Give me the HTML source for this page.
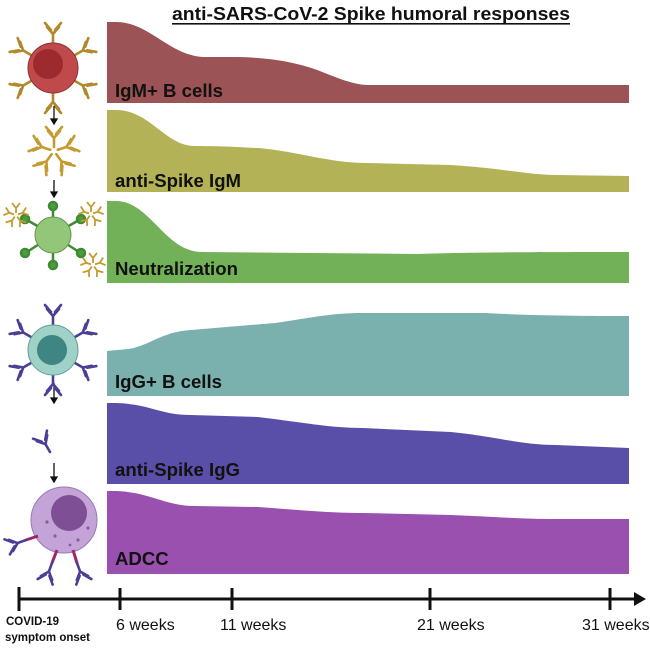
<!DOCTYPE html>
<html><head><meta charset="utf-8"><style>
html,body{margin:0;padding:0;background:#fff;}
svg{display:block;}
text{font-family:"Liberation Sans",Arial,sans-serif;}
</style></head><body>
<svg width="650" height="650" viewBox="0 0 650 650" xmlns="http://www.w3.org/2000/svg">
<defs>
<g id="ab"><path d="M0,0 V-9 M0,-9 L-6,-16 M0,-9 L6,-16 M-2,-13 L-8,-20 M2,-13 L8,-20" stroke-width="2.6" fill="none" stroke-linecap="round"/></g>
<g id="abs"><path d="M0,0 V-5 M0,-5 L-4,-10 M0,-5 L4,-10" stroke-width="1.8" fill="none"/></g>
</defs>
<text x="172" y="20" font-size="18" font-weight="bold" textLength="398" lengthAdjust="spacingAndGlyphs" fill="#111">anti-SARS-CoV-2 Spike humoral responses</text>
<rect x="172" y="23" width="398" height="1.6" fill="#111"/>
<path d="M107,103 L107,22 L116,22 C150,22 170,57 206,57 L230,57 C270,57 300,62 330,75 C350,83 360,85 369,85 L629,85 L629,103 Z" fill="#9b5356"/>
<path d="M107,192 V110 L116,110 C150,110 165,146 195,146 C230,146 250,148 259,148 C300,152 330,163 367,163 L451,165 C500,168 530,175 556,175 L629,176 V192 Z" fill="#b3b256"/>
<path d="M107,283 V201 L116,201 C150,201 165,252 202,252 L416,254 C450,253 480,252 629,252 V283 Z" fill="#72b157"/>
<path d="M107,396 V351 L128,349 C150,346 160,332 191,330 L275,323 C310,318 330,313 363,313 L486,313 C520,315 560,316 629,316 V396 Z" fill="#7ab0ae"/>
<path d="M107,484 V403 L116,403 C150,404 160,415 191,415 L258,417 C300,422 330,428 363,428 L451,432 C500,437 520,445 556,445 L629,448 V484 Z" fill="#5a4fa8"/>
<path d="M107,574 V491 L116,491 C150,492 165,506 195,506 L258,507 C300,510 330,513 363,513 L451,515 C500,517 520,519 556,519 L629,519 V574 Z" fill="#9a50ae"/>
<g font-size="18.6" font-weight="bold" fill="#111">
<text x="115" y="97">IgM+ B cells</text>
<text x="115" y="187">anti-Spike IgM</text>
<text x="115" y="275">Neutralization</text>
<text x="115" y="388">IgG+ B cells</text>
<text x="115" y="476">anti-Spike IgG</text>
<text x="115" y="565">ADCC</text>
</g>
<line x1="18" y1="599" x2="636" y2="599" stroke="#111" stroke-width="3"/>
<path d="M634,592 L646,599 L634,606 Z" fill="#111"/>
<g stroke="#111" stroke-width="3">
<line x1="19" y1="587" x2="19" y2="611"/>
<line x1="120" y1="588" x2="120" y2="610"/>
<line x1="232" y1="588" x2="232" y2="610"/>
<line x1="430" y1="588" x2="430" y2="610"/>
<line x1="610" y1="588" x2="610" y2="610"/>
</g>
<g font-size="16" fill="#111">
<text x="116" y="630">6 weeks</text>
<text x="220" y="630">11 weeks</text>
<text x="417" y="630">21 weeks</text>
<text x="582" y="630">31 weeks</text>
</g>
<g font-size="11.5" font-weight="bold" fill="#111">
<text x="6" y="625">COVID-19</text>
<text x="5" y="641">symptom onset</text>
</g>
<g stroke="#b08a2a">
<use href="#ab" transform="translate(53,43)"/>
<use href="#ab" transform="translate(53,93) rotate(180)"/>
<use href="#ab" transform="translate(31,55) rotate(-60)"/>
<use href="#ab" transform="translate(75,55) rotate(60)"/>
<use href="#ab" transform="translate(31,81) rotate(-120)"/>
<use href="#ab" transform="translate(75,81) rotate(120)"/>
</g>
<circle cx="53" cy="68" r="25" fill="#c0494c" stroke="#8e3034" stroke-width="1"/>
<circle cx="48" cy="64" r="15" fill="#9c2a2e"/>
<g stroke="#111" stroke-width="1.3" fill="#111">
<line x1="54" y1="106" x2="54" y2="121"/><path d="M51,119 L57,119 L54,124 Z"/>
<line x1="54" y1="180" x2="54" y2="194"/><path d="M51,192 L57,192 L54,197 Z"/>
<line x1="54" y1="383" x2="54" y2="400"/><path d="M51,398 L57,398 L54,403 Z"/>
<line x1="54" y1="463" x2="54" y2="479"/><path d="M51,477 L57,477 L54,482 Z"/>
</g>
<g stroke="#c59a2e" transform="translate(54,151)">
<use href="#ab" transform="rotate(0) translate(0,-4)"/>
<use href="#ab" transform="rotate(72) translate(0,-4)"/>
<use href="#ab" transform="rotate(144) translate(0,-4)"/>
<use href="#ab" transform="rotate(216) translate(0,-4)"/>
<use href="#ab" transform="rotate(288) translate(0,-4)"/>
</g>
<g stroke="#3f8a34" stroke-width="2.5" fill="#4f9c3e">
<line x1="53" y1="235" x2="53" y2="207"/><line x1="53" y1="235" x2="53" y2="263"/>
<line x1="53" y1="235" x2="27" y2="220"/><line x1="53" y1="235" x2="79" y2="220"/>
<line x1="53" y1="235" x2="27" y2="252"/><line x1="53" y1="235" x2="79" y2="252"/>
<circle cx="53" cy="206" r="4"/><circle cx="53" cy="265" r="4"/>
<circle cx="25" cy="219" r="4"/><circle cx="81" cy="219" r="4"/>
<circle cx="25" cy="253" r="4"/><circle cx="81" cy="253" r="4"/>
</g>
<circle cx="53" cy="235" r="18" fill="#93c679" stroke="#5f9a4c" stroke-width="1"/>
<g stroke="#c59a2e">
<g transform="translate(16,215)"><use href="#abs" transform="rotate(0) translate(0,-2)"/><use href="#abs" transform="rotate(72) translate(0,-2)"/><use href="#abs" transform="rotate(144) translate(0,-2)"/><use href="#abs" transform="rotate(216) translate(0,-2)"/><use href="#abs" transform="rotate(288) translate(0,-2)"/></g>
<g transform="translate(91,214)"><use href="#abs" transform="rotate(0) translate(0,-2)"/><use href="#abs" transform="rotate(72) translate(0,-2)"/><use href="#abs" transform="rotate(144) translate(0,-2)"/><use href="#abs" transform="rotate(216) translate(0,-2)"/><use href="#abs" transform="rotate(288) translate(0,-2)"/></g>
<g transform="translate(93,265)"><use href="#abs" transform="rotate(0) translate(0,-2)"/><use href="#abs" transform="rotate(72) translate(0,-2)"/><use href="#abs" transform="rotate(144) translate(0,-2)"/><use href="#abs" transform="rotate(216) translate(0,-2)"/><use href="#abs" transform="rotate(288) translate(0,-2)"/></g>
</g>
<g stroke="#4a3f95">
<use href="#ab" transform="translate(53,325)"/>
<use href="#ab" transform="translate(53,375) rotate(180)"/>
<use href="#ab" transform="translate(31,337) rotate(-60)"/>
<use href="#ab" transform="translate(75,337) rotate(60)"/>
<use href="#ab" transform="translate(31,363) rotate(-120)"/>
<use href="#ab" transform="translate(75,363) rotate(120)"/>
</g>
<circle cx="53" cy="350" r="25" fill="#9fd1c6" stroke="#5f9f98" stroke-width="1"/>
<circle cx="52" cy="350" r="15" fill="#3f8584"/>
<g stroke="#4a3f95"><use href="#ab" transform="translate(50,452) rotate(-30)"/></g>
<circle cx="64" cy="520" r="33" fill="#c4a3d8" stroke="#9a7ab1" stroke-width="1"/>
<circle cx="69" cy="513" r="18" fill="#7e4f95"/>
<g fill="#8a5aa0"><circle cx="47" cy="522" r="1.6"/><circle cx="55" cy="536" r="1.6"/><circle cx="78" cy="540" r="1.6"/><circle cx="88" cy="528" r="1.6"/><circle cx="70" cy="545" r="1.4"/></g>
<g stroke="#a0246a" stroke-width="3"><line x1="38" y1="536" x2="26" y2="540"/><line x1="57" y1="550" x2="52" y2="563"/><line x1="73" y1="550" x2="77" y2="563"/></g>
<g stroke="#4a3f95">
<use href="#ab" transform="translate(26,540) rotate(-110)"/>
<use href="#ab" transform="translate(52,563) rotate(200)"/>
<use href="#ab" transform="translate(77,563) rotate(160)"/>
</g>
</svg>
</body></html>
